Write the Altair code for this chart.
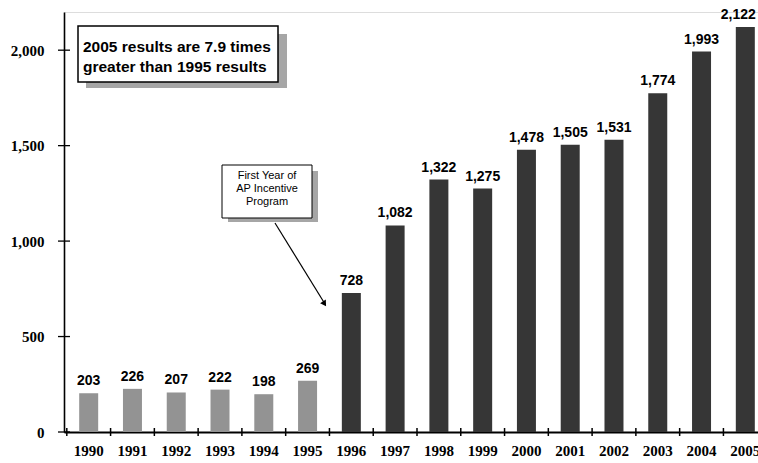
import altair as alt
import pandas as pd

# Yearly results, 1990-2005
years = [1990, 1991, 1992, 1993, 1994, 1995, 1996, 1997,
         1998, 1999, 2000, 2001, 2002, 2003, 2004, 2005]
counts = [203, 226, 207, 222, 198, 269, 728, 1082,
          1322, 1275, 1478, 1505, 1531, 1774, 1993, 2122]
y_ticks = [0, 500, 1000, 1500, 2000]

note_main = ["2005 results are 7.9 times", "greater than 1995 results"]
note_program = ["First Year of", "AP Incentive", "Program"]

df = pd.DataFrame({"year": years, "count": counts})
tick_df = pd.DataFrame({"count": y_ticks})
one = pd.DataFrame({"k": [0]})

H = 420
SERIF = "Liberation Serif"
SANS = "Liberation Sans"

x_axis = alt.Axis(
    title=None, labelAngle=0, ticks=False, labelFont=SERIF,
    labelFontWeight="bold", labelFontSize=15, labelColor="black",
    labelPadding=11, domainColor="black", domainWidth=2,
)
y_axis = alt.Axis(
    title=None, values=y_ticks, labelExpr="format(datum.value, ',')",
    ticks=False, grid=False, labelFont=SERIF, labelFontWeight="bold",
    labelFontSize=15, labelColor="black", labelPadding=20,
    domainColor="black", domainWidth=1.6,
)
x_scale = alt.Scale(range=[0, 706], paddingInner=0, paddingOuter=0.064)
y_scale = alt.Scale(domain=[0, 2200], nice=False)


def xq(**kw):
    return alt.X("year:O", scale=x_scale, axis=x_axis, **kw)


def yq():
    return alt.Y("count:Q", scale=y_scale, axis=y_axis)


bars = alt.Chart(df).mark_bar(width=19).encode(
    x=xq(),
    y=yq(),
    color=alt.condition(alt.datum.year <= 1995,
                        alt.value("#939393"), alt.value("#363636")),
)

label_style = dict(font=SANS, fontWeight="bold", fontSize=14,
                   baseline="alphabetic", color="black")
values = alt.Chart(df).transform_filter(alt.datum.year < 2005).mark_text(
    dy=-8, **label_style
).encode(x=xq(), y=yq(), text=alt.Text("count:Q", format=","))
# the last label sits a little left so it stays inside the frame
values_last = alt.Chart(df).transform_filter(alt.datum.year == 2005).mark_text(
    dy=-8, dx=-7, **label_style
).encode(x=xq(), y=yq(), text=alt.Text("count:Q", format=","))

# crossing tick marks on both axes
x_ticks = alt.Chart(df).mark_rule(color="black", strokeWidth=1.5).encode(
    x=xq(bandPosition=0),
    y=alt.value(H - 4), y2=alt.value(H + 4),
)
y_tick_marks = alt.Chart(tick_df).mark_rule(color="black", strokeWidth=1.3).encode(
    y=yq(), x=alt.value(-6), x2=alt.value(6),
)


def text_lines(lines, x, y0, step, **style):
    return [
        alt.Chart(one).mark_text(baseline="middle", color="black", **style)
        .encode(x=alt.value(x), y=alt.value(y0 + i * step), text=alt.value(t))
        for i, t in enumerate(lines)
    ]


# summary note box with drop shadow
main_shadow = alt.Chart(one).mark_rect(color="#a6a6a6").encode(
    x=alt.value(22), x2=alt.value(223), y=alt.value(22), y2=alt.value(76))
main_box = alt.Chart(one).mark_rect(
    fill="white", stroke="black", strokeWidth=1.5).encode(
    x=alt.value(14), x2=alt.value(214), y=alt.value(14), y2=alt.value(70))
main_text = text_lines(note_main, 19, 35, 20, font=SANS, fontWeight="bold",
                       fontSize=15.5, align="left")

# program callout with arrow
prog_shadow = alt.Chart(one).mark_rect(color="#a6a6a6").encode(
    x=alt.value(164), x2=alt.value(254), y=alt.value(159), y2=alt.value(210))
prog_box = alt.Chart(one).mark_rect(
    fill="white", stroke="black", strokeWidth=1).encode(
    x=alt.value(158), x2=alt.value(248), y=alt.value(153), y2=alt.value(206))
prog_text = text_lines(note_program, 203, 164, 13, font=SANS, fontSize=11,
                       align="center")
arrow_line = alt.Chart(one).mark_rule(color="black", strokeWidth=1.2).encode(
    x=alt.value(211), y=alt.value(211), x2=alt.value(261), y2=alt.value(292))
arrow_head = alt.Chart(one).mark_point(
    shape="triangle", filled=True, color="black", size=45, angle=148,
    opacity=1,
).encode(x=alt.value(260), y=alt.value(291))

chart = alt.layer(
    bars, values, values_last, x_ticks, y_tick_marks,
    main_shadow, main_box, *main_text,
    prog_shadow, prog_box, *prog_text, arrow_line, arrow_head,
).properties(
    width=694, height=H,
    autosize=alt.AutoSizeParams(type="none"),
    padding={"left": 64, "top": 12, "right": 0, "bottom": 31},
).configure_view(stroke=None).configure(background="white")

chart.save("out.html", embed_options={"renderer": "svg", "actions": False})
